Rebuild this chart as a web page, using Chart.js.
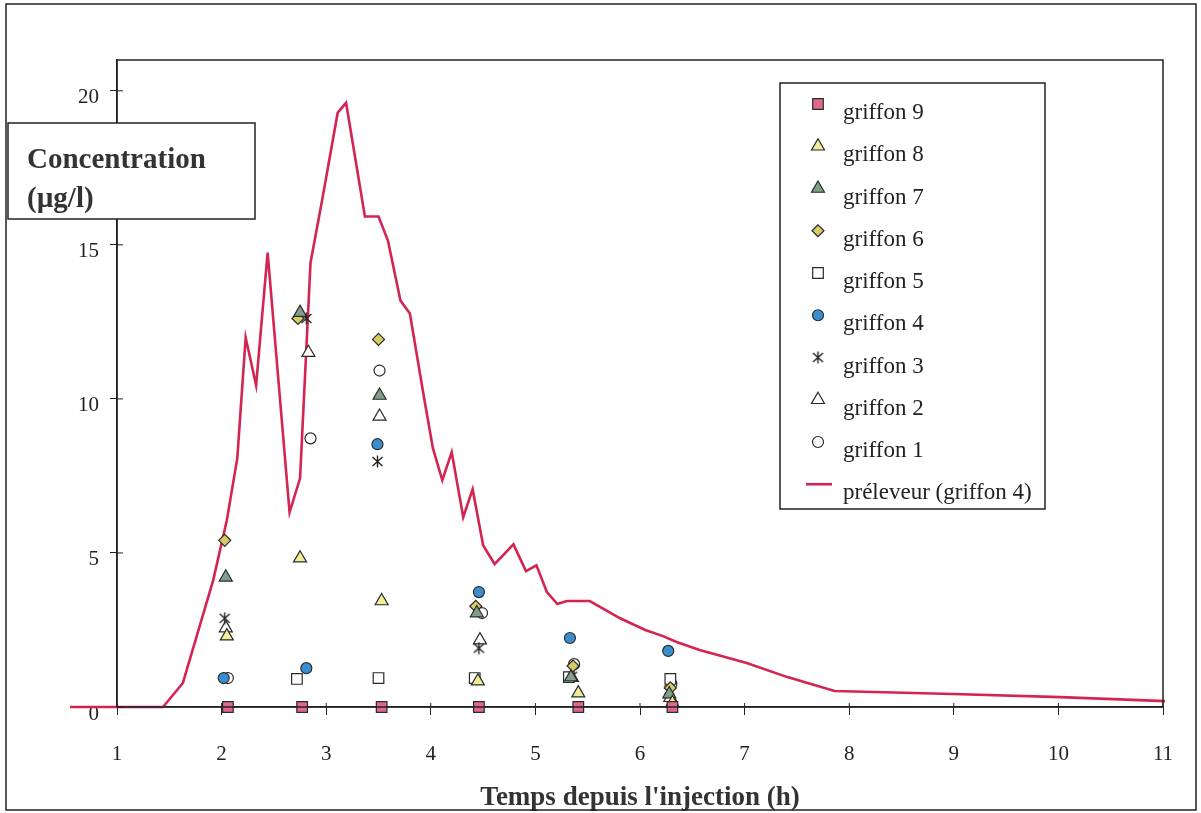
<!DOCTYPE html>
<html>
<head>
<meta charset="utf-8">
<script src="https://cdn.jsdelivr.net/npm/chart.js@4.4.1/dist/chart.umd.min.js"></script>
<style>
  html, body { margin: 0; background: #fff; }
  #wrap { width: 1201px; height: 813px; }
</style>
</head>
<body>
<div id="wrap"><canvas id="chart" width="1201" height="813"></canvas></div>
<script>
const xTicks = [1, 2, 3, 4, 5, 6, 7, 8, 9, 10, 11];
const yTicks = [0, 5, 10, 15, 20];

// préleveur (griffon 4), continuous sampler
const prelevTime = [0.55, 1.44, 1.63, 1.92, 2.05, 2.15, 2.23, 2.33, 2.44, 2.65, 2.75, 2.85, 2.96, 3.11, 3.19,
  3.37, 3.50, 3.59, 3.71, 3.80, 3.94, 4.02, 4.11, 4.20, 4.31, 4.40, 4.50, 4.61, 4.79, 4.91, 5.01, 5.11,
  5.21, 5.30, 5.52, 5.81, 6.05, 6.22, 6.35, 6.57, 7.02, 7.41, 7.86, 8.99, 10.02, 11.02];
const prelevConc = [0, 0, 0.78, 4.12, 6.06, 8.07, 11.99, 10.44, 14.75, 6.32, 7.42, 14.42, 16.43, 19.29, 19.61,
  15.92, 15.92, 15.14, 13.19, 12.77, 9.95, 8.40, 7.36, 8.27, 6.16, 7.07, 5.25, 4.64, 5.28, 4.41, 4.60, 3.73,
  3.34, 3.44, 3.44, 2.88, 2.50, 2.30, 2.11, 1.85, 1.43, 0.97, 0.52, 0.42, 0.32, 0.19];

// griffons (grab samples)
const g9Time = [2.06, 2.77, 3.53, 4.46, 5.41, 6.31];
const g9Conc = [0, 0, 0, 0, 0, 0];
const g8Time = [2.05, 2.75, 3.53, 4.45, 5.41, 6.31];
const g8Conc = [2.30, 4.83, 3.44, 0.84, 0.45, 0.13];
const g7Time = [2.04, 2.75, 3.51, 4.44, 5.34, 6.28];
const g7Conc = [4.21, 12.80, 10.11, 3.05, 0.97, 0.42];
const g6Time = [2.03, 2.73, 3.50, 4.43, 5.36, 6.29];
const g6Conc = [5.41, 12.61, 11.93, 3.27, 1.33, 0.62];
const g5Time = [2.72, 3.50, 4.42, 5.32, 6.29];
const g5Conc = [0.91, 0.94, 0.94, 0.97, 0.91];
const g4Time = [2.02, 2.81, 3.49, 4.46, 5.33, 6.27];
const g4Conc = [0.94, 1.26, 8.53, 3.73, 2.24, 1.82];
const g3Time = [2.03, 2.81, 3.49, 4.46, 5.35, 6.28];
const g3Conc = [2.88, 12.61, 7.97, 1.91, 1.00, 0.55];
const g2Time = [2.04, 2.83, 3.51, 4.47, 5.35, 6.29];
const g2Conc = [2.56, 11.50, 9.43, 2.17, 0.95, 0.30];
const g1Time = [2.06, 2.85, 3.51, 4.49, 5.37, 6.30];
const g1Conc = [0.94, 8.72, 10.92, 3.05, 1.39, 0.75];

const pts = (xs, ys) => xs.map((x, i) => ({ x: x, y: ys[i] }));

// asterisk marker for griffon 3
function makeStar() {
    const c = document.createElement('canvas');
    c.width = 13; c.height = 13;
    const g = c.getContext('2d');
    g.strokeStyle = '#222';
    g.lineWidth = 1.4;
    g.beginPath();
    g.moveTo(6.5, 0.5); g.lineTo(6.5, 12.5);
    g.moveTo(1.5, 2); g.lineTo(11.5, 11);
    g.moveTo(11.5, 2); g.lineTo(1.5, 11);
    g.stroke();
    return c;
}
const starImg = makeStar();

function griffon(label, xs, ys, style, fill, radius) {
    return {
        label: label,
        data: pts(xs, ys),
        pointStyle: style,
        pointRadius: radius,
        backgroundColor: fill,
        borderColor: '#2a2a2a',
        borderWidth: 1.2,
        showLine: false,
        clip: 12,
        order: 1
    };
}

const datasets = [
    griffon('griffon 9', g9Time, g9Conc, 'rect', '#e0688a', 7.5),
    griffon('griffon 8', g8Time, g8Conc, 'triangle', '#eeee99', 7.5),
    griffon('griffon 7', g7Time, g7Conc, 'triangle', '#7f9f8a', 7.5),
    griffon('griffon 6', g6Time, g6Conc, 'rectRot', '#d6cc66', 6),
    griffon('griffon 5', g5Time, g5Conc, 'rect', '#ffffff', 7.5),
    griffon('griffon 4', g4Time, g4Conc, 'circle', '#3a8ed0', 5.5),
    griffon('griffon 3', g3Time, g3Conc, starImg, '#ffffff', 6),
    griffon('griffon 2', g2Time, g2Conc, 'triangle', '#ffffff', 7.5),
    griffon('griffon 1', g1Time, g1Conc, 'circle', '#ffffff', 5.5),
    {
        label: 'préleveur (griffon 4)',
        data: pts(prelevTime, prelevConc),
        showLine: true,
        borderColor: '#d42452',
        borderWidth: 2.6,
        pointRadius: 0,
        tension: 0,
        clip: false,
        order: 2
    }
];

// frame, boxed y title and boxed legend
const decorations = {
    id: 'decorations',
    afterDraw(chart) {
        const ctx = chart.ctx;
        const a = chart.chartArea;
        const xs = chart.scales.x, ys = chart.scales.y;
        ctx.save();
        ctx.strokeStyle = '#222';
        ctx.lineWidth = 1.5;
        ctx.strokeRect(a.left, a.top, a.right - a.left, a.bottom - a.top);

        // inner half of the crossing tick marks
        ctx.lineWidth = 1;
        ctx.beginPath();
        xTicks.forEach(v => { const p = xs.getPixelForValue(v); ctx.moveTo(p, a.bottom); ctx.lineTo(p, a.bottom - 4); });
        yTicks.forEach(v => { const p = ys.getPixelForValue(v); ctx.moveTo(a.left, p); ctx.lineTo(a.left + 6, p); });
        ctx.stroke();

        // y axis title box
        ctx.fillStyle = '#fff';
        ctx.fillRect(8, 123, 247, 96);
        ctx.lineWidth = 1.5;
        ctx.strokeRect(8, 123, 247, 96);
        ctx.fillStyle = '#333';
        ctx.font = 'bold 29px "Liberation Serif"';
        ctx.textBaseline = 'alphabetic';
        ctx.textAlign = 'left';
        ctx.fillText('Concentration', 27, 168);
        ctx.fillText('(µg/l)', 27, 207);

        // legend box
        ctx.fillStyle = '#fff';
        ctx.fillRect(780, 83, 265, 426);
        ctx.strokeRect(780, 83, 265, 426);
        ctx.font = '23px "Liberation Serif"';
        chart.data.datasets.forEach((ds, i) => {
            const my = 104 + i * 42.25;
            if (ds.showLine) {
                ctx.strokeStyle = ds.borderColor;
                ctx.lineWidth = 2.6;
                ctx.beginPath(); ctx.moveTo(806, my); ctx.lineTo(832, my); ctx.stroke();
            } else {
                ctx.fillStyle = ds.backgroundColor;
                ctx.strokeStyle = ds.borderColor;
                ctx.lineWidth = 1.2;
                Chart.helpers.drawPoint(ctx, {
                    pointStyle: ds.pointStyle, rotation: 0,
                    radius: ds.pointRadius, borderWidth: 1.2
                }, 818, my);
            }
            ctx.fillStyle = '#222';
            ctx.fillText(ds.label, 843, my + 15);
        });

        // outer frame
        ctx.strokeStyle = '#222';
        ctx.lineWidth = 1.5;
        ctx.strokeRect(6, 4, 1190, 806);
        ctx.restore();
    }
};

const serif = 'Liberation Serif';

new Chart(document.getElementById('chart'), {
    type: 'scatter',
    data: { datasets: datasets },
    options: {
        responsive: false,
        animation: false,
        layout: { padding: { top: 60, right: 38, left: 0, bottom: 0 } },
        plugins: {
            legend: { display: false },
            tooltip: { enabled: false }
        },
        scales: {
            x: {
                type: 'linear',
                min: 1,
                max: 11,
                afterBuildTicks: s => { s.ticks = xTicks.map(v => ({ value: v })); },
                afterFit: s => { s.height = 106; },
                grid: { drawOnChartArea: false, tickLength: 8, color: '#222', lineWidth: 1 },
                border: { color: '#222', width: 1.5 },
                ticks: { padding: 27, color: '#222', maxRotation: 0, autoSkip: false,
                         font: { family: serif, size: 21 } },
                title: {
                    display: true,
                    text: "Temps depuis l'injection (h)",
                    color: '#333',
                    font: { family: serif, size: 27, weight: 'bold', lineHeight: 1.1 },
                    padding: { top: 0, bottom: 0 }
                }
            },
            y: {
                type: 'linear',
                min: 0,
                max: 21,
                afterBuildTicks: s => { s.ticks = yTicks.map(v => ({ value: v })); },
                afterFit: s => { s.width = 117; },
                grid: { drawOnChartArea: false, tickLength: 7, color: '#222', lineWidth: 1 },
                border: { color: '#222', width: 1.5 },
                ticks: { padding: 11, labelOffset: 7, color: '#222',
                         font: { family: serif, size: 21 } }
            }
        }
    },
    plugins: [decorations]
});
</script>
</body>
</html>
